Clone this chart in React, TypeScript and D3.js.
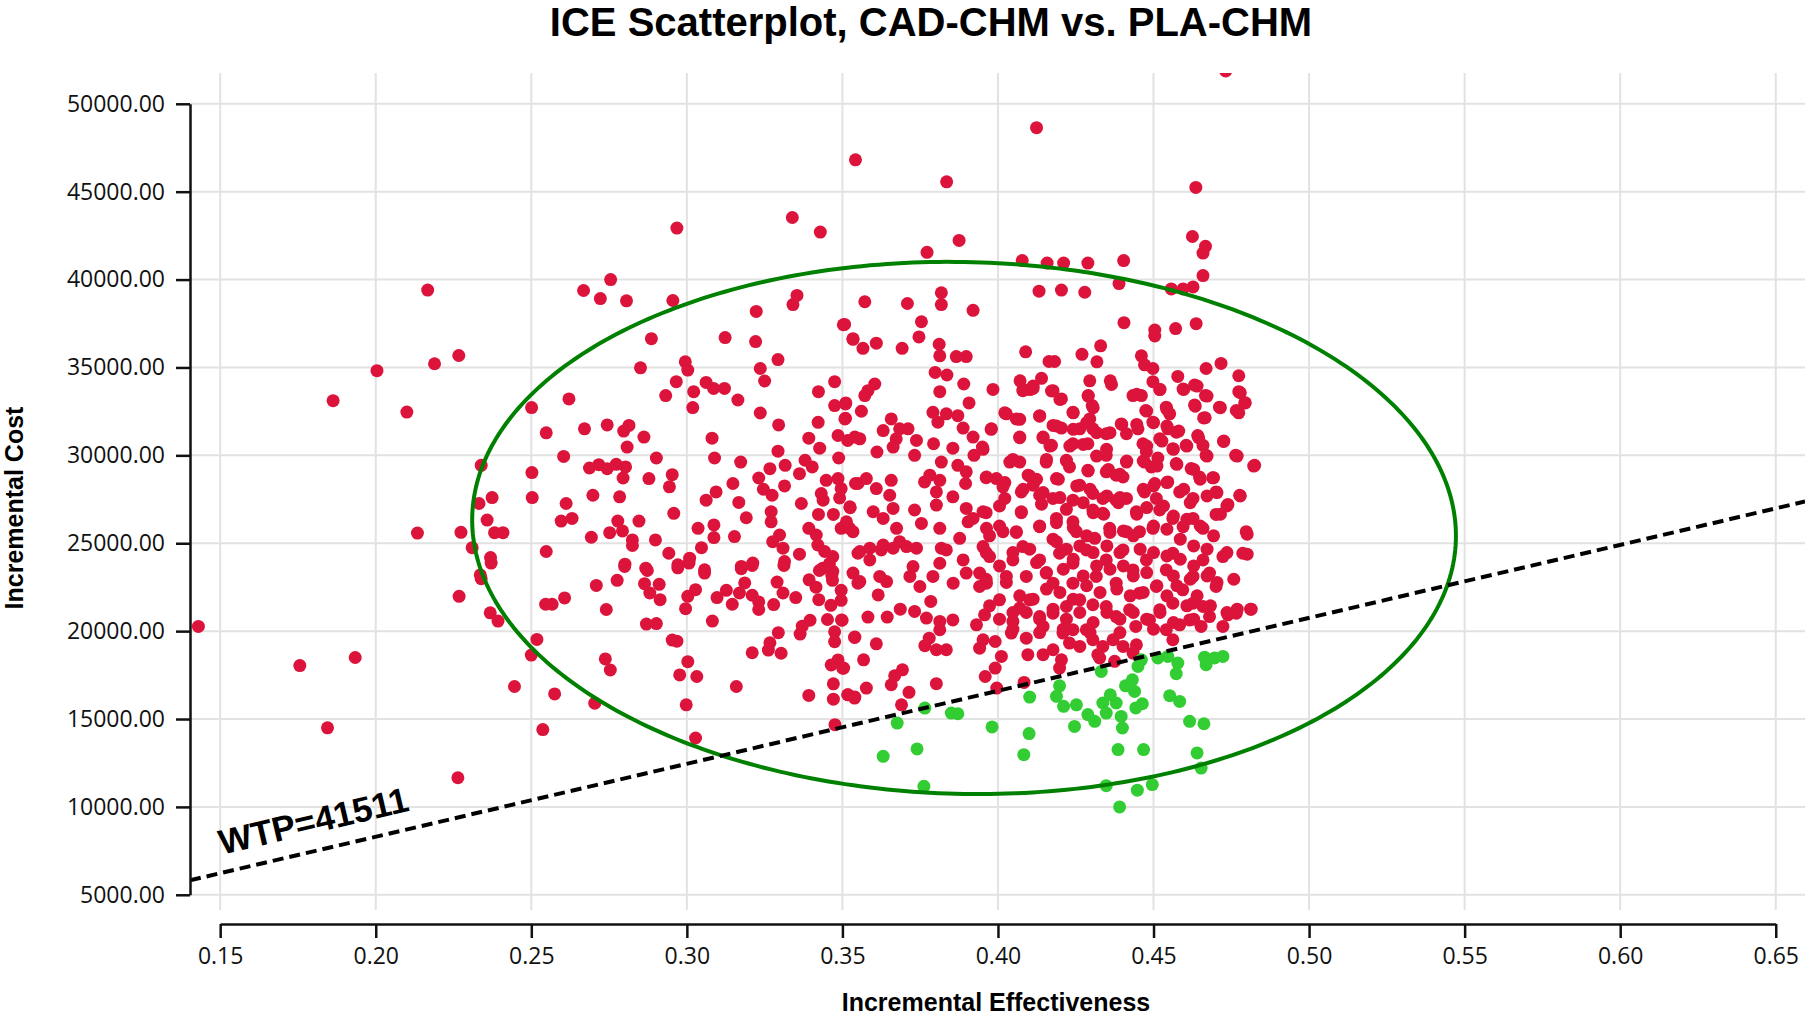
import { useEffect, useRef } from "react";
import * as d3 from "d3";

// incremental effectiveness / incremental cost pairs
const redPoints: [number, number][] = [
  [0.143, 20270], [0.1756, 18040], [0.1845, 14500], [0.1934, 18500], [0.1863, 33110], [0.2004, 34820],
  [0.21, 32460], [0.2167, 39400], [0.2189, 35210], [0.2134, 25580], [0.3542, 46810], [0.3835, 45560],
  [0.4124, 48640], [0.4732, 51870], [0.4636, 45240],
  [0.2968, 42930], [0.3339, 43530], [0.3429, 42700], [0.2755, 40000], [0.2668, 39380], [0.2722, 38920],
  [0.2806, 38790], [0.2955, 38810], [0.3354, 39100], [0.3341, 38580], [0.3223, 38190], [0.3503, 37430],
  [0.2267, 35680], [0.2886, 36640], [0.3123, 36700], [0.3221, 36470], [0.3293, 35450], [0.3534, 36600],
  [0.2851, 34980], [0.2995, 35320], [0.3003, 34850], [0.2966, 34190], [0.2932, 33400], [0.3022, 33620],
  [0.3062, 34150], [0.3086, 33810], [0.3121, 33810], [0.3164, 33150], [0.3019, 32720], [0.3236, 34940],
  [0.325, 34230], [0.3236, 32410], [0.3295, 31730], [0.3475, 34190], [0.3423, 33620], [0.3475, 32830],
  [0.351, 32920], [0.351, 32110], [0.3422, 31880], [0.2501, 32720], [0.2621, 33210], [0.2548, 31280],
  [0.2671, 31510], [0.2744, 31730], [0.2814, 31700], [0.2797, 31380], [0.2862, 31040], [0.2808, 30470],
  [0.2902, 29850], [0.3081, 30980], [0.3089, 29850], [0.3173, 29620], [0.3293, 30240], [0.3392, 30980],
  [0.3427, 30410], [0.3486, 31130], [0.3517, 30850], [0.3488, 29850], [0.2339, 29430], [0.2502, 29020],
  [0.2604, 29940], [0.2687, 29280], [0.2717, 29470], [0.2744, 29240], [0.2773, 29490], [0.2803, 29340],
  [0.2795, 28710], [0.2878, 28680], [0.2953, 28900], [0.2944, 28210], [0.3267, 29240], [0.3316, 29430],
  [0.338, 29720], [0.3362, 28960], [0.3403, 29340], [0.3231, 28710], [0.3246, 28070], [0.3274, 27730],
  [0.3314, 28260], [0.3148, 28400], [0.3448, 28580], [0.3486, 28680], [0.3496, 28110], [0.3432, 27830],
  [0.3438, 27450], [0.3491, 27580], [0.3542, 28400], [0.2374, 27600], [0.2332, 27260], [0.2503, 27600],
  [0.2612, 27260], [0.2698, 27730], [0.2784, 27640], [0.3062, 27450], [0.3094, 27920], [0.3167, 27320],
  [0.2958, 26700], [0.3191, 26450], [0.3271, 26790], [0.3271, 26220], [0.3368, 27260], [0.3423, 26640],
  [0.3471, 26640], [0.3525, 27020], [0.2358, 26320], [0.2274, 25620], [0.2382, 25600], [0.2409, 25600],
  [0.231, 24750], [0.2369, 24190], [0.2336, 23200], [0.2548, 24530], [0.2596, 26260], [0.2631, 26410],
  [0.2693, 25340], [0.2752, 25600], [0.2778, 26260], [0.2793, 25700], [0.2825, 25190], [0.2825, 24870],
  [0.2846, 26260], [0.2899, 25190], [0.2942, 24430], [0.2971, 23770], [0.3009, 24150], [0.3047, 24750],
  [0.3036, 25850], [0.3087, 26040], [0.3087, 25320], [0.3153, 25380], [0.3057, 23490], [0.3175, 23680],
  [0.3212, 23870], [0.3276, 25090], [0.3298, 25470], [0.3309, 24720], [0.3314, 23960], [0.3362, 24380],
  [0.3392, 25850], [0.3416, 25470], [0.3421, 24900], [0.3443, 24530], [0.3469, 24240], [0.3437, 23580],
  [0.3469, 23400], [0.3496, 25850], [0.3523, 25850], [0.2801, 23810], [0.2868, 23580],
  [0.2268, 21980], [0.2339, 22980], [0.2371, 23870], [0.2368, 21040], [0.2393, 20570], [0.2518, 19530],
  [0.25, 18640], [0.2446, 16850], [0.2575, 16430], [0.2537, 14400], [0.2264, 11660], [0.2704, 15900],
  [0.2546, 21530], [0.2567, 21530], [0.2607, 21890], [0.2709, 22600], [0.2741, 21230], [0.2738, 18420],
  [0.2754, 17790], [0.2776, 22890], [0.28, 23680], [0.2873, 23450], [0.2864, 22700], [0.2881, 22170],
  [0.2911, 22660], [0.2914, 21790], [0.287, 20400], [0.2902, 20430], [0.2953, 19490], [0.2968, 19430],
  [0.2971, 23600], [0.3007, 23870], [0.3003, 21980], [0.3028, 22360], [0.2996, 21280], [0.3003, 18260],
  [0.2977, 17510], [0.3032, 17420], [0.2998, 15810], [0.3028, 13920], [0.3057, 23300], [0.3082, 20570],
  [0.3097, 21910], [0.3127, 22320], [0.3146, 21530], [0.3159, 16850], [0.3169, 22170], [0.3175, 23550],
  [0.321, 23740], [0.3186, 22740], [0.321, 22040], [0.3231, 21660], [0.3231, 21230], [0.3279, 21510],
  [0.3309, 22170], [0.329, 22790], [0.3312, 23740], [0.335, 21910], [0.3294, 19910], [0.3267, 19340],
  [0.3262, 18920], [0.3303, 18740], [0.321, 18770], [0.3371, 20280], [0.3364, 19830], [0.3396, 20620],
  [0.3393, 22920], [0.3415, 22500], [0.3426, 23450], [0.3458, 23830], [0.3466, 23170], [0.3468, 22890],
  [0.3496, 22320], [0.3496, 21750], [0.3424, 21790], [0.3463, 21470], [0.3452, 20660], [0.3499, 20620],
  [0.3475, 19960], [0.3475, 19400], [0.3539, 19640], [0.3464, 18080], [0.3486, 18360], [0.3501, 17890],
  [0.3471, 17000], [0.3471, 16130], [0.3392, 16340], [0.3517, 16380], [0.3539, 16190], [0.3476, 14680],
  [0.3772, 41550], [0.3875, 42230], [0.4078, 41080], [0.4158, 40940], [0.4211, 40940], [0.4289, 40940],
  [0.4404, 41080], [0.4625, 42450], [0.4667, 41890], [0.4659, 41510], [0.4659, 40230], [0.4389, 39770],
  [0.4557, 39470], [0.4595, 39470], [0.4627, 39580], [0.4132, 39340], [0.4204, 39400], [0.4279, 39280],
  [0.3572, 38740], [0.3709, 38640], [0.3818, 39250], [0.3818, 38580], [0.392, 38250], [0.3507, 37450],
  [0.3754, 37600], [0.3534, 36640], [0.3566, 36090], [0.3609, 36380], [0.3692, 36090], [0.3746, 36740],
  [0.3811, 36320], [0.3813, 35660], [0.3866, 35620], [0.3898, 35620], [0.4405, 37550], [0.4504, 37130],
  [0.4504, 36790], [0.4571, 37210], [0.4637, 37490], [0.4089, 35890], [0.4164, 35340], [0.4182, 35340],
  [0.427, 35750], [0.433, 36230], [0.4318, 35320], [0.4461, 35660], [0.4471, 35150], [0.4498, 34940],
  [0.4669, 34940], [0.4717, 35230], [0.4774, 34530], [0.4578, 34490], [0.4774, 33620], [0.4793, 32980],
  [0.4766, 32550], [0.4595, 33770], [0.4632, 34000], [0.4667, 33400], [0.4632, 32870], [0.4712, 32740],
  [0.4661, 32130], [0.4498, 34190], [0.452, 33740], [0.4434, 33400], [0.4461, 33400], [0.4541, 32740],
  [0.4552, 32360], [0.4475, 32550], [0.3798, 34720], [0.3836, 34570], [0.389, 34060], [0.3813, 33620],
  [0.3582, 33680], [0.3604, 34060], [0.3572, 33400], [0.3511, 32980], [0.3561, 32510], [0.3508, 32070],
  [0.4071, 34240], [0.4103, 33740], [0.414, 34380], [0.408, 33680], [0.4113, 33810], [0.4177, 33680],
  [0.4204, 33210], [0.4295, 34240], [0.429, 33400], [0.4303, 32830], [0.4361, 34240], [0.3907, 32980],
  [0.3871, 32260], [0.3791, 32450], [0.3834, 32360], [0.3807, 31890], [0.3888, 31550], [0.3657, 32070],
  [0.3631, 31410], [0.3684, 31510], [0.3711, 31510], [0.3738, 30850], [0.3663, 30470], [0.3732, 30000],
  [0.3611, 30190], [0.354, 31040], [0.3793, 30660], [0.3855, 30410], [0.392, 31040], [0.395, 30470],
  [0.3923, 30000], [0.3871, 29430], [0.3818, 29620], [0.3979, 31510], [0.4027, 32360], [0.4059, 32070],
  [0.407, 31040], [0.4134, 32260], [0.4177, 31700], [0.4145, 31040], [0.4241, 32450], [0.4204, 31550],
  [0.4263, 31510], [0.4295, 32070], [0.4305, 31510], [0.4289, 30660], [0.4241, 30660], [0.4172, 30570],
  [0.4155, 29620], [0.422, 29720], [0.4348, 31230], [0.4396, 31790], [0.4413, 31230], [0.445, 31510],
  [0.4498, 31890], [0.4546, 31510], [0.4573, 31320], [0.452, 30940], [0.4466, 30660], [0.4477, 30190],
  [0.4514, 29850], [0.4562, 30380], [0.4605, 30570], [0.4642, 31130], [0.4659, 30570], [0.4669, 30000],
  [0.4725, 30790], [0.4764, 30000], [0.4825, 29430], [0.4573, 29530], [0.4621, 29250], [0.4648, 28770],
  [0.469, 28720], [0.4701, 27920], [0.4777, 27730], [0.4739, 27210], [0.4701, 26640], [0.4798, 25660],
  [0.4348, 30000], [0.4348, 29060], [0.438, 28870], [0.4413, 29620], [0.4402, 28770], [0.4471, 29620],
  [0.4493, 29340], [0.4289, 29150], [0.4188, 28680], [0.4097, 28870], [0.4113, 28300], [0.407, 29620],
  [0.4038, 29620], [0.3995, 28680], [0.3963, 28770], [0.4016, 28210], [0.4022, 27550], [0.4075, 27920],
  [0.4075, 26790], [0.4134, 27730], [0.4177, 27550], [0.4241, 27450], [0.4263, 28300], [0.4305, 27830],
  [0.4337, 27550], [0.438, 27450], [0.4413, 27550], [0.4305, 26890], [0.4337, 26700], [0.4241, 26220],
  [0.4188, 26410], [0.4134, 25940], [0.4445, 26790], [0.4471, 27920], [0.4504, 28400], [0.4546, 28490],
  [0.4584, 27920], [0.4627, 27550], [0.4509, 27550], [0.452, 26890], [0.4562, 26410], [0.4627, 26410],
  [0.4659, 25850], [0.4498, 25850], [0.4455, 25660], [0.4359, 25850], [0.4311, 25280], [0.4252, 25660],
  [0.4188, 25090], [0.4059, 25660], [0.3963, 25850], [0.392, 26410], [0.3952, 26790], [0.3898, 26980],
  [0.3813, 25850], [0.3877, 25280], [0.3818, 24720], [0.3754, 26130], [0.3732, 26890], [0.3802, 27170],
  [0.3802, 27920], [0.3855, 27640], [0.3896, 28400], [0.3898, 29060], [0.3781, 28870], [0.3764, 28490],
  [0.3657, 28580], [0.3609, 28110], [0.355, 28400], [0.3652, 27730], [0.3663, 26980], [0.3599, 26790],
  [0.3524, 27070], [0.3513, 26220], [0.3534, 25660], [0.3674, 25850], [0.3738, 24720], [0.3556, 24530],
  [0.4413, 25660], [0.4016, 25660], [0.3904, 26220], [0.3684, 25090], [0.3588, 24720], [0.3631, 24900],
  [0.3631, 26410], [0.3813, 28580], [0.3577, 28680], [0.3673, 30940], [0.3556, 30940], [0.423, 29340],
  [0.4595, 25940],
  [0.3497, 20640], [0.354, 19660], [0.3609, 19280], [0.3568, 18370], [0.3504, 17900], [0.3577, 16760],
  [0.3518, 16380], [0.354, 16250], [0.3657, 16950], [0.3668, 17460], [0.3693, 17800], [0.3714, 16520],
  [0.369, 15810], [0.3802, 17010], [0.3765, 19170], [0.3802, 18940], [0.3834, 18940], [0.3779, 19600],
  [0.3582, 20800], [0.3644, 20800], [0.3686, 21250], [0.3732, 21120], [0.377, 20740], [0.3813, 20550],
  [0.3855, 20640], [0.3813, 20080], [0.3784, 21690], [0.3615, 22060], [0.3642, 22820], [0.355, 22730],
  [0.3931, 20360], [0.3952, 19510], [0.3941, 19030], [0.3991, 19410], [0.4011, 18560], [0.3991, 17900],
  [0.3959, 17420], [0.3996, 16760], [0.4084, 17080], [0.4096, 18660], [0.4091, 19600], [0.4043, 19890],
  [0.4048, 20550], [0.407, 21310], [0.4102, 21780], [0.4005, 21780], [0.3957, 20930], [0.4145, 18660],
  [0.4177, 18940], [0.4204, 18370], [0.4198, 17900], [0.423, 19320], [0.4241, 20080], [0.4284, 20080],
  [0.4305, 19510], [0.4263, 19130], [0.4321, 18660], [0.4337, 19130], [0.437, 19510], [0.4402, 19130],
  [0.4434, 18750], [0.4445, 19220], [0.4375, 18280], [0.4209, 19890], [0.4145, 20270], [0.4134, 20830],
  [0.4177, 21020], [0.422, 21400], [0.4263, 21780], [0.4348, 21400], [0.438, 20830], [0.4423, 21210],
  [0.4443, 20270], [0.4487, 20640], [0.4541, 20080], [0.4562, 19510], [0.4584, 20360], [0.4653, 20270],
  [0.4723, 20270], [0.4739, 20930], [0.4814, 21250],
  [0.355, 24430], [0.3588, 24050], [0.3625, 24620], [0.3663, 24720], [0.3534, 23300], [0.3556, 22820],
  [0.3706, 24810], [0.3727, 23670], [0.3749, 22540], [0.3717, 23110], [0.3791, 23110], [0.3813, 23860],
  [0.3834, 24620], [0.3856, 22730], [0.3888, 24050], [0.3898, 23300], [0.3941, 23300], [0.3963, 22730],
  [0.3973, 24240], [0.3952, 24810], [0.4027, 23110], [0.4048, 24050], [0.408, 24810], [0.4091, 23110],
  [0.4134, 24050], [0.4177, 22730], [0.4198, 24430], [0.4241, 23860], [0.4284, 24620], [0.4316, 23110],
  [0.4348, 24050], [0.438, 22730], [0.4402, 24620], [0.4434, 23480], [0.4455, 22160], [0.4477, 24050],
  [0.4509, 22540], [0.4541, 23480], [0.4562, 24430], [0.4594, 22350], [0.4627, 23110], [0.4659, 24050],
  [0.468, 23300], [0.4701, 22540], [0.4723, 24240], [0.4787, 24430], [0.4155, 23300], [0.4241, 22730],
  [0.4305, 21500], [0.452, 21210], [0.4616, 20640], [0.468, 20830], [0.4766, 21020], [0.4562, 21590],
  [0.4627, 21590], [0.4659, 21400], [0.4327, 18470], [0.3941, 22540], [0.362, 23110],
];

// extra red points from the densest part of the cloud (0.40-0.48, 20000-34000)
const denseRedPoints: [number, number][] = [
  [0.3984, 33750], [0.4081, 33750], [0.4113, 33940], [0.4172, 33660], [0.4199, 33180], [0.429, 33370],
  [0.4306, 32710], [0.4365, 34030], [0.4446, 33470], [0.4521, 33750], [0.4543, 32610], [0.4597, 33750],
  [0.464, 33940], [0.4672, 33370], [0.4715, 32710], [0.4779, 33560], [0.4795, 32990], [0.4774, 32420],
  [0.4634, 32800], [0.4666, 32140], [0.4478, 32520], [0.4022, 32420], [0.407, 32050], [0.4134, 32230],
  [0.4242, 32420], [0.3978, 31480], [0.407, 31000], [0.3952, 30340], [0.4145, 31000], [0.4188, 31670],
  [0.4242, 31480], [0.4285, 31860], [0.4317, 31290], [0.436, 31290], [0.4398, 31760], [0.4446, 31760],
  [0.45, 31860], [0.4543, 31670], [0.4581, 31380], [0.4527, 30810], [0.4478, 30530], [0.4564, 30340],
  [0.4607, 30530], [0.4645, 31000], [0.4672, 29960], [0.4726, 30810], [0.4769, 29960], [0.4822, 29390],
  [0.4167, 30530], [0.4231, 30530], [0.4274, 30620], [0.4317, 29960], [0.4349, 30340], [0.4414, 29680],
  [0.4467, 29680], [0.4511, 29390], [0.4575, 29490], [0.4629, 29200], [0.4693, 28730], [0.465, 28640],
  [0.4048, 29770], [0.4156, 29770], [0.422, 29680], [0.3962, 28730], [0.4022, 28450], [0.4102, 28820],
  [0.4124, 28640], [0.4194, 28640], [0.429, 29110], [0.4355, 29200], [0.4392, 28920], [0.4081, 28070],
  [0.4145, 27880], [0.4199, 27600], [0.4253, 28260], [0.4296, 28070], [0.435, 27690], [0.4392, 27600],
  [0.4467, 28070], [0.45, 28260], [0.4543, 28450], [0.4597, 28070], [0.4618, 27310], [0.4672, 27690],
  [0.4704, 27880], [0.4736, 27120], [0.4779, 27690], [0.4715, 26650], [0.3962, 26740], [0.4005, 27120],
  [0.4075, 26740], [0.414, 27220], [0.422, 26930], [0.4274, 27310], [0.4306, 26740], [0.434, 26650],
  [0.4387, 27310], [0.4446, 26650], [0.4478, 27030], [0.4532, 27120], [0.4564, 26550], [0.4607, 26360],
  [0.465, 25980], [0.4693, 25420], [0.4736, 24470], [0.4801, 24380], [0.4801, 25510], [0.4005, 25980],
  [0.3973, 25420], [0.4059, 25610], [0.4134, 25980], [0.4188, 26170], [0.4242, 25890], [0.4285, 25420],
  [0.436, 25610], [0.4403, 25700], [0.4435, 25420], [0.45, 25980], [0.4543, 25800], [0.4586, 25230],
  [0.4629, 24850], [0.4672, 24660], [0.4177, 25230], [0.422, 24660], [0.4263, 24850], [0.4306, 24470],
  [0.435, 24850], [0.4392, 24470], [0.4457, 24660], [0.45, 24470], [0.4543, 24280], [0.4586, 24090],
  [0.4629, 23710], [0.3962, 24470], [0.4005, 23710], [0.4048, 24470], [0.4102, 24660], [0.4124, 23900],
  [0.4156, 23330], [0.421, 23520], [0.4242, 24090], [0.4274, 23140], [0.4317, 23710], [0.436, 23520],
  [0.4403, 23710], [0.4435, 23140], [0.4478, 23330], [0.4564, 23140], [0.4618, 22950], [0.4672, 23140],
  [0.4704, 22770], [0.4758, 22950], [0.4812, 21250], [0.3962, 22950], [0.4027, 22770], [0.407, 22010],
  [0.4113, 21820], [0.4156, 22390], [0.4199, 22200], [0.4242, 21820], [0.4285, 22580], [0.4328, 22200],
  [0.4382, 22390], [0.4425, 22010], [0.4467, 22200], [0.4511, 22580], [0.4543, 22010], [0.4575, 22580],
  [0.4607, 21440], [0.464, 22010], [0.4683, 21440], [0.4736, 21060], [0.4769, 21250], [0.3973, 21440],
  [0.4005, 20680], [0.4048, 21060], [0.4091, 21060], [0.4134, 20680], [0.4177, 21250], [0.422, 20680],
  [0.4263, 21060], [0.4306, 20490], [0.435, 21060], [0.4392, 20680], [0.4435, 21060], [0.4478, 20680],
  [0.4521, 21060], [0.4564, 20490], [0.4629, 20680], [0.4048, 20110], [0.4134, 19920], [0.421, 20110],
  [0.4296, 19920], [0.4392, 19920], [0.45, 20110],
];

// points below the WTP line (cost-effective)
const greenPoints: [number, number][] = [
  [0.3631, 12880], [0.3676, 14770], [0.374, 13300], [0.3762, 11170], [0.3765, 15620], [0.385, 15340],
  [0.3871, 15300], [0.3981, 14550], [0.4083, 12970], [0.41, 14170], [0.4102, 16250], [0.4198, 16890],
  [0.4188, 16290], [0.4211, 15720], [0.4252, 15810], [0.4246, 14580], [0.4289, 15250], [0.4311, 14870],
  [0.4332, 17710], [0.4337, 15910], [0.4361, 16380], [0.4348, 15340], [0.438, 15910], [0.4396, 15150],
  [0.44, 14490], [0.4386, 13260], [0.4348, 11210], [0.4391, 10000], [0.441, 16890], [0.4432, 17230],
  [0.4439, 16570], [0.4443, 15630], [0.4464, 15870], [0.445, 17990], [0.4461, 18370], [0.4468, 13260],
  [0.4448, 10950], [0.4496, 11270], [0.4514, 18470], [0.4546, 18560], [0.4578, 18180], [0.4573, 17580],
  [0.4552, 16330], [0.4584, 16000], [0.4616, 14870], [0.4662, 14730], [0.464, 13070], [0.4653, 12210],
  [0.4664, 18520], [0.4669, 18090], [0.4696, 18470], [0.4723, 18560],
];

const xTicks = [0.15, 0.2, 0.25, 0.3, 0.35, 0.4, 0.45, 0.5, 0.55, 0.6, 0.65];
const yTicks = [5000, 10000, 15000, 20000, 25000, 30000, 35000, 40000, 45000, 50000];

const WTP = 41511;
// confidence ellipse: centre, semi-axes, and a small tilt term (cost units)
const ellipseCenter = [0.3891, 25870];
const ellipseRadii = [0.1581, 15131];
const ellipseTilt = -450;

const WIDTH = 1808;
const HEIGHT = 1015;

export default function App() {
  const svgRef = useRef<SVGSVGElement>(null);

  useEffect(() => {
    const svg = d3.select(svgRef.current);
    svg.selectAll("*").remove();

    const left = 190, right = 1805, top = 73, bottom = 910;

    const xScale = d3.scaleLinear().domain([0.1403, 0.6594]).range([left, right]);
    const yScale = d3.scaleLinear().domain([4135, 51752]).range([bottom, top]);

    svg
      .append("defs")
      .append("clipPath")
      .attr("id", "plot-clip")
      .append("rect")
      .attr("x", left)
      .attr("y", top)
      .attr("width", right - left)
      .attr("height", bottom - top);

    // grid
    const grid = svg.append("g").attr("stroke", "#e2e2e2").attr("stroke-width", 2);
    grid
      .selectAll(".vgrid")
      .data(xTicks)
      .join("line")
      .attr("x1", (d) => xScale(d))
      .attr("x2", (d) => xScale(d))
      .attr("y1", top)
      .attr("y2", bottom);
    grid
      .selectAll(".hgrid")
      .data(yTicks)
      .join("line")
      .attr("x1", left)
      .attr("x2", right)
      .attr("y1", (d) => yScale(d))
      .attr("y2", (d) => yScale(d));

    const plot = svg.append("g").attr("clip-path", "url(#plot-clip)");

    plot
      .selectAll(".red")
      .data([...redPoints, ...denseRedPoints])
      .join("circle")
      .attr("cx", (d) => xScale(d[0]))
      .attr("cy", (d) => yScale(d[1]))
      .attr("r", 6.5)
      .attr("fill", "#dc143c");

    plot
      .selectAll(".green")
      .data(greenPoints)
      .join("circle")
      .attr("cx", (d) => xScale(d[0]))
      .attr("cy", (d) => yScale(d[1]))
      .attr("r", 6.5)
      .attr("fill", "#32cd32");

    // ellipse outline
    const angles = d3.range(0, 2 * Math.PI + 0.01, Math.PI / 180);
    const ellipseLine = d3
      .line<number>()
      .x((t) => xScale(ellipseCenter[0] + ellipseRadii[0] * Math.cos(t)))
      .y((t) => yScale(ellipseCenter[1] + ellipseRadii[1] * Math.sin(t) + ellipseTilt * Math.cos(t)))
      .curve(d3.curveLinearClosed);
    plot
      .append("path")
      .attr("d", ellipseLine(angles))
      .attr("fill", "none")
      .attr("stroke", "#008000")
      .attr("stroke-width", 4);

    // WTP threshold line
    const [e0, e1] = xScale.domain();
    plot
      .append("line")
      .attr("x1", xScale(e0))
      .attr("y1", yScale(WTP * e0))
      .attr("x2", xScale(e1))
      .attr("y2", yScale(WTP * e1))
      .attr("stroke", "#000")
      .attr("stroke-width", 4)
      .attr("stroke-dasharray", "11,6");

    const angle =
      (Math.atan2(yScale(WTP * e1) - yScale(WTP * e0), xScale(e1) - xScale(e0)) * 180) / Math.PI;
    const lx = xScale(0.1506);
    const ly = yScale(WTP * 0.1506) - 18;
    svg
      .append("text")
      .attr("transform", `translate(${lx},${ly}) rotate(${angle})`)
      .attr("font-family", "'Liberation Sans', Arial, sans-serif")
      .attr("font-weight", "bold")
      .attr("font-size", 35)
      .attr("fill", "#000")
      .text(`WTP=${WTP}`);

    // axes only span the tick range
    const xAxisScale = xScale.copy().domain([0.15, 0.65]).range([xScale(0.15), xScale(0.65)]);
    const yAxisScale = yScale.copy().domain([5000, 50000]).range([yScale(5000), yScale(50000)]);

    const xAxis = svg
      .append("g")
      .attr("transform", `translate(0,924)`)
      .call(
        d3
          .axisBottom(xAxisScale)
          .tickValues(xTicks)
          .tickFormat(d3.format(".2f"))
          .tickSize(14)
          .tickSizeOuter(0)
          .tickPadding(10)
      );

    const yAxis = svg
      .append("g")
      .attr("transform", `translate(${left},0)`)
      .call(
        d3
          .axisLeft(yAxisScale)
          .tickValues(yTicks)
          .tickFormat(d3.format(".2f"))
          .tickSize(14)
          .tickSizeOuter(0)
          .tickPadding(11)
      );

    [xAxis, yAxis].forEach((ax) => {
      ax.select(".domain").attr("stroke", "#111").attr("stroke-width", 2.5);
      ax.selectAll(".tick line").attr("stroke", "#111").attr("stroke-width", 2.5);
      ax.selectAll(".tick text")
        .attr("font-family", "'Open Sans', sans-serif")
        .attr("font-size", 23)
        .attr("fill", "#111");
    });

    // titles
    svg
      .append("text")
      .attr("x", 931)
      .attr("y", 36)
      .attr("text-anchor", "middle")
      .attr("font-family", "'Liberation Sans', Arial, sans-serif")
      .attr("font-weight", "bold")
      .attr("font-size", 40)
      .text("ICE Scatterplot, CAD-CHM vs. PLA-CHM");

    svg
      .append("text")
      .attr("x", 996)
      .attr("y", 1011)
      .attr("text-anchor", "middle")
      .attr("font-family", "'Liberation Sans', Arial, sans-serif")
      .attr("font-weight", "bold")
      .attr("font-size", 25)
      .text("Incremental Effectiveness");

    svg
      .append("text")
      .attr("transform", "translate(23,508) rotate(-90)")
      .attr("text-anchor", "middle")
      .attr("font-family", "'Liberation Sans', Arial, sans-serif")
      .attr("font-weight", "bold")
      .attr("font-size", 25)
      .text("Incremental Cost");
  }, []);

  return (
    <svg
      ref={svgRef}
      width={WIDTH}
      height={HEIGHT}
      style={{ position: "absolute", left: 0, top: 0, background: "#fff" }}
    />
  );
}
